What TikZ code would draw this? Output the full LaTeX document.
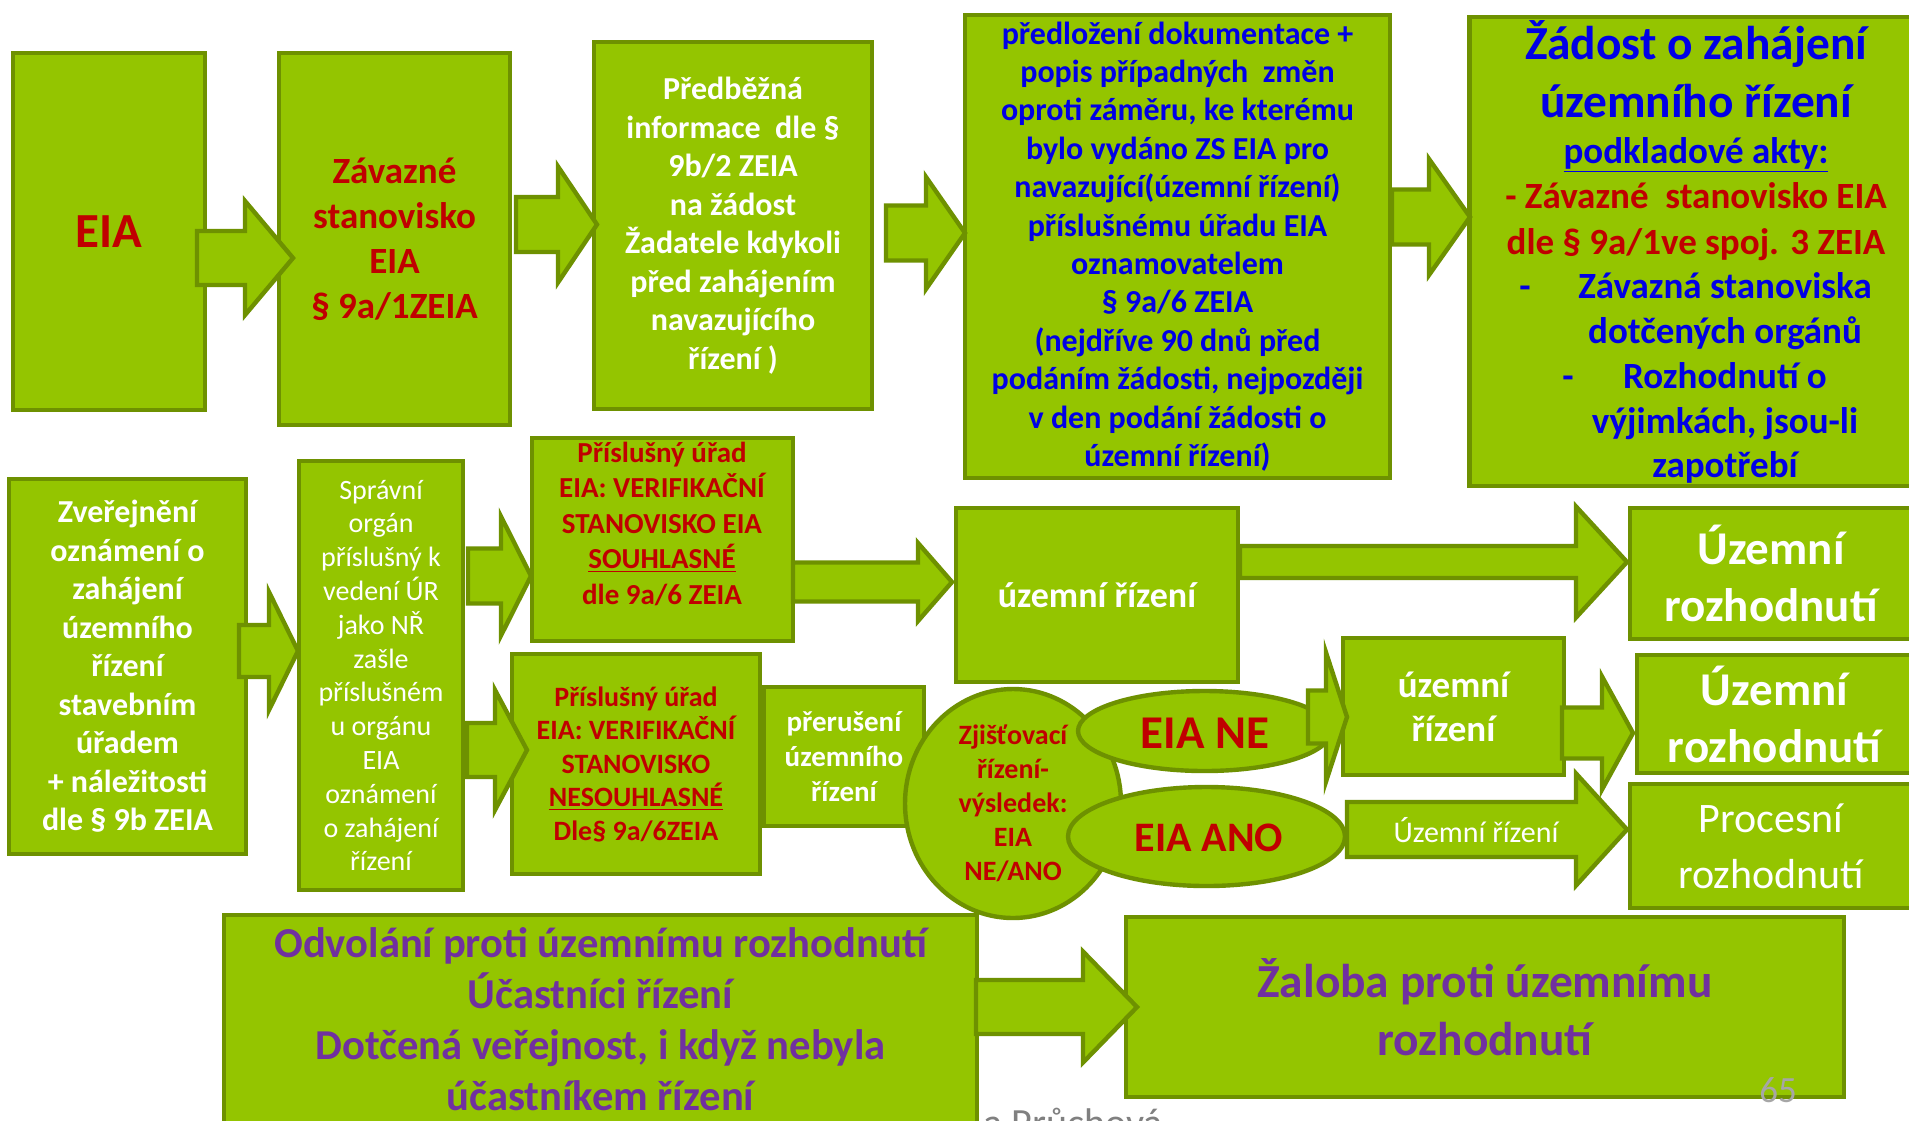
\documentclass[tikz,border=0pt]{standalone}
\usepackage{fontspec}
\setmainfont{Carlito}
\usetikzlibrary{shapes.geometric}
\definecolor{gfill}{RGB}{148,197,0}
\definecolor{gline}{RGB}{110,145,0}
\definecolor{tred}{RGB}{192,0,0}
\definecolor{tblue}{RGB}{0,0,230}
\definecolor{tpurple}{RGB}{112,48,160}
\definecolor{pgray}{RGB}{166,166,166}
\definecolor{agray}{RGB}{128,128,128}
\newcommand\fs[2]{\fontsize{#1}{#2}\selectfont}
% #1 start x, #2 head base x, #3 tip x, #4 centre y, #5 shaft half height, #6 head half height
\newcommand\barrow[6]{\draw[arr] (#1,#4-#5) -- (#2,#4-#5) -- (#2,#4-#6) -- (#3,#4) -- (#2,#4+#6) -- (#2,#4+#5) -- (#1,#4+#5) -- cycle;}
\begin{document}
\begin{tikzpicture}[x=0.5pt,y=-0.5pt,
  box/.style={draw=gline, fill=gfill, line width=2.2pt, inner sep=0pt, outer sep=0pt, align=center, text=white, font=\bfseries},
  ell/.style={ellipse, draw=gline, fill=gfill, line width=2.2pt, inner sep=0pt, outer sep=0pt},
  txt/.style={inner sep=0pt, align=center},
  arr/.style={draw=gline, fill=gfill, line width=2.2pt, line join=miter}]
\useasboundingbox (0,0) rectangle (1909,1120);
\clip (0,0) rectangle (1909,1120);
\fill[white] (0,0) rectangle (1909,1120);

% top row
\node[box, minimum width=96pt, minimum height=178.5pt, text=tred, font=\fs{24.5}{29}\bfseries] (eia) at (109,231.5) {EIA};
\node[box, minimum width=115.5pt, minimum height=186pt, text=tred, font=\fs{18.5}{22.5}\bfseries] (zs) at (394.5,239) {Závazné\\stanovisko\\EIA\\§ 9a/1ZEIA};
\node[box, minimum width=139pt, minimum height=183.5pt, font=\fs{16}{19.25}\bfseries] (pi) at (733,225.5) {Předběžná\\informace\ \ dle §\\9b/2 ZEIA\\na žádost\\Žadatele kdykoli\\před zahájením\\navazujícího\\řízení )};
\node[box, minimum width=212.5pt, minimum height=231.5pt, text=tblue, font=\fs{16}{19.2}\bfseries] (pd) at (1177.5,246.5) {předložení dokumentace +\\popis případných\ \ změn\\oproti záměru, ke kterému\\bylo vydáno ZS EIA pro\\navazující(územní řízení)\\příslušnému úřadu EIA\\oznamovatelem\\§ 9a/6 ZEIA\\(nejdříve 90 dnů před\\podáním žádosti, nejpozději\\v den podání žádosti o\\územní řízení)};
\node[box, minimum width=224pt, minimum height=234.5pt] (zad) at (1693.5,251.5) {};
\node[txt, anchor=base, text=tblue, font=\fs{23.7}{28}\bfseries] (zad1) at (1696,59) {Žádost o zahájení};
\node[txt, anchor=base, text=tblue, font=\fs{23.7}{28}\bfseries] (zad2) at (1696,117.5) {územního řízení};
\node[txt, anchor=base, text=tblue, font=\fs{18.5}{22}\bfseries] (zad3) at (1696,163) {\underline{podkladové akty:}};
\node[txt, anchor=base, text=tred, font=\fs{18.5}{22}\bfseries] (zad4) at (1696,208) {- Závazné\ \ stanovisko EIA};
\node[txt, anchor=base, text=tred, font=\fs{18.5}{22}\bfseries] (zad5) at (1696,254) {dle § 9a/1ve spoj. 3 ZEIA};
\node[txt, anchor=base, text=tblue, font=\fs{18.5}{22}\bfseries] (zad6) at (1725,298) {Závazná stanoviska};
\node[txt, anchor=base, text=tblue, font=\fs{18.5}{22}\bfseries] (zad7) at (1725,343) {dotčených orgánů};
\node[txt, anchor=base, text=tblue, font=\fs{18.5}{22}\bfseries] (zad8) at (1725,388) {Rozhodnutí o};
\node[txt, anchor=base, text=tblue, font=\fs{18.5}{22}\bfseries] (zad9) at (1725,433) {výjimkách, jsou-li};
\node[txt, anchor=base, text=tblue, font=\fs{18.5}{22}\bfseries] (zad10) at (1725,477) {zapotřebí};
\node[txt, anchor=base, text=tblue, font=\fs{18.5}{22}\bfseries] (dash1) at (1525,298) {-};
\node[txt, anchor=base, text=tblue, font=\fs{18.5}{22}\bfseries] (dash2) at (1568,388) {-};

% middle rows
\node[box, minimum width=118.5pt, minimum height=187.5pt, font=\fs{16}{19.25}\bfseries] (zv) at (127.5,666.5) {Zveřejnění\\oznámení o\\zahájení\\územního\\řízení\\stavebním\\úřadem\\+ náležitosti\\dle § 9b ZEIA};
\node[box, minimum width=82pt, minimum height=214.5pt, font=\fs{14}{16.9}] (sp) at (381,675.5) {Správní\\orgán\\příslušný k\\vedení ÚR\\jako NŘ\\zašle\\příslušném\\u orgánu\\EIA\\oznámení\\o zahájení\\řízení};
\node[box, minimum width=130.5pt, minimum height=101.5pt] (sou) at (662.5,539.5) {};
\node[txt, text=tred, font=\fs{14.5}{17.75}\bfseries] (sout) at (662,523.5) {Příslušný úřad\\EIA: VERIFIKAČNÍ\\STANOVISKO EIA\\\underline{SOUHLASNÉ}\\dle 9a/6 ZEIA};
\node[box, minimum width=124pt, minimum height=110pt, text=tred, font=\fs{14}{16.75}\bfseries] (nes) at (636,764) {Příslušný úřad\\EIA: VERIFIKAČNÍ\\STANOVISKO\\\underline{NESOUHLASNÉ}\\Dle§ 9a/6ZEIA};
\node[box, minimum width=80pt, minimum height=69.5pt, font=\fs{14.5}{17.5}\bfseries] (pre) at (844,756.5) {přerušení\\územního\\řízení};
\node[box, minimum width=141pt, minimum height=87pt, font=\fs{18}{22}\bfseries] (ur) at (1097,595) {územní řízení};
\node[box, minimum width=141pt, minimum height=65.5pt, font=\fs{23.5}{28.5}\bfseries] (uroz1) at (1771,573.5) {Územní\\rozhodnutí};
\node[box, minimum width=110.5pt, minimum height=68.5pt, font=\fs{18.5}{22}\bfseries] (ur2) at (1453.5,706.5) {územní\\řízení};
\node[box, minimum width=137.5pt, minimum height=59pt, font=\fs{23.5}{28.5}\bfseries] (uroz2) at (1774.5,714) {Územní\\rozhodnutí};
\node[box, minimum width=141pt, minimum height=62pt, font=\fs{21}{28}] (proc) at (1771,846) {Procesní\\rozhodnutí};

% bottom row
\node[txt, anchor=base west, text=agray, font=\fs{20}{24}] (auth) at (983,1136) {a Průchová};
\node[box, minimum width=376.5pt, minimum height=104pt, text=tpurple, font=\fs{21.3}{25.5}\bfseries] (odv) at (600.5,1019) {Odvolání proti územnímu rozhodnutí\\Účastníci řízení\\Dotčená veřejnost, i když nebyla\\účastníkem řízení};
\node[box, minimum width=359pt, minimum height=90pt, text=tpurple, font=\fs{23.7}{29}\bfseries] (zal) at (1485,1007) {Žaloba proti územnímu\\rozhodnutí};
\node[txt, anchor=base, text=pgray, font=\fs{18.5}{22}] (pg) at (1778,1102) {65};

% block arrows
\barrow{197}{245}{293}{258}{27}{57}
\barrow{516}{558}{597}{224.5}{27.5}{58}
\barrow{886}{926}{965}{233}{27.5}{56}
\barrow{1392}{1429}{1470}{217}{27.5}{58}
\barrow{239}{269}{298}{651}{26}{59}
\barrow{468}{501}{531}{576}{27.5}{59.5}
\barrow{467}{495}{527}{750}{27}{60}
\barrow{793}{918}{952}{582}{19.5}{39}
\barrow{1240}{1576}{1627}{562}{16}{55.5}
\barrow{1562}{1602}{1633}{733}{25.5}{56.5}
\barrow{1347}{1576}{1627}{829.5}{27.5}{56}
\barrow{976}{1083}{1137}{1007}{27}{55.5}
\node[txt, text=white, font=\fs{15}{18}] (lab) at (1476,830) {Územní řízení};

% ellipses
\node[ell, minimum width=108pt, minimum height=114.5pt] (zj) at (1013,803.5) {};
\node[txt, text=tred, font=\fs{14}{17}\bfseries] (zjt) at (1013,803.5) {Zjišťovací\\řízení-\\výsledek:\\EIA\\NE/ANO};
\node[ell, minimum width=126.5pt, minimum height=40pt] (ne) at (1204.5,731) {};
\node[txt, text=tred, font=\fs{23.5}{28}\bfseries] (net) at (1205,733) {EIA NE};
\node[ell, minimum width=138.5pt, minimum height=49.5pt] (ano) at (1206.5,836.5) {};
\node[txt, text=tred, font=\fs{21}{25}\bfseries] (anot) at (1209,838) {EIA ANO};
\barrow{1308}{1326}{1347}{717}{26.5}{64.5}
\end{tikzpicture}
\end{document}
